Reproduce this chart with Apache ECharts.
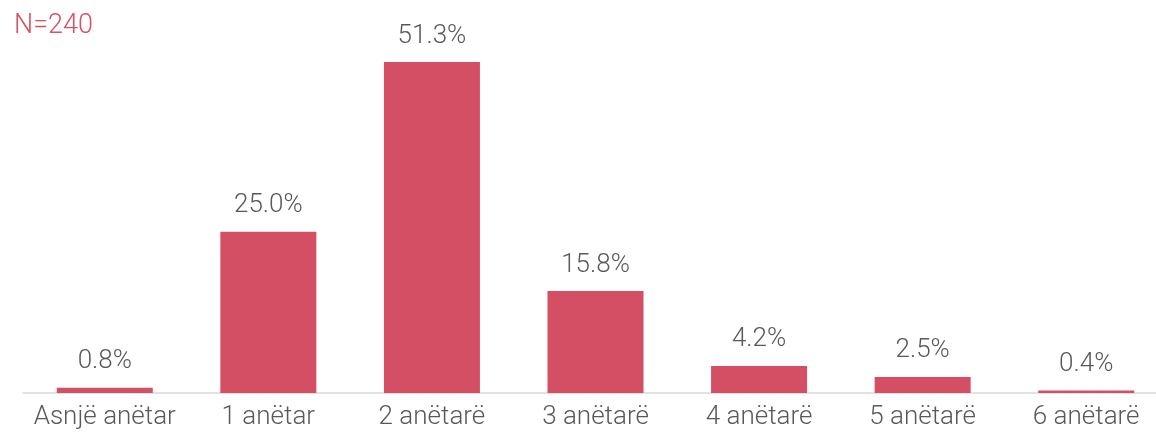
<!DOCTYPE html>
<html>
<head>
<meta charset="utf-8">
<script src="https://cdn.jsdelivr.net/npm/echarts@6/dist/echarts.min.js"></script>
<style>
  html, body { margin: 0; padding: 0; background: #fff; overflow: hidden; }
  #chart { width: 1168px; height: 432px; }
</style>
</head>
<body>
<div id="chart"></div>
<script>
var categories = ['Asnjë anëtar', '1 anëtar', '2 anëtarë', '3 anëtarë', '4 anëtarë', '5 anëtarë', '6 anëtarë'];
var values = [0.8, 25.0, 51.3, 15.8, 4.2, 2.5, 0.4];
var sampleNote = 'N=240';

var myChart = echarts.init(document.getElementById('chart'));

var option = {
  animation: false,
  textStyle: { fontFamily: 'Roboto' },
  title: {
    text: sampleNote,
    left: 9,
    top: 8,
    textStyle: { color: '#d75266', fontSize: 27, fontWeight: 300, fontFamily: 'Roboto' }
  },
  grid: { left: 23, right: 0, top: 6, bottom: 39 },
  xAxis: {
    type: 'category',
    data: categories,
    axisLine: { lineStyle: { color: '#d9d9d9', width: 1.5 } },
    axisTick: { show: false },
    axisLabel: { color: '#595959', fontSize: 26, fontWeight: 300, margin: 11, interval: 0, hideOverlap: false }
  },
  yAxis: {
    type: 'value',
    min: 0,
    max: 60,
    show: false,
    splitLine: { show: false }
  },
  series: [
    {
      type: 'bar',
      data: values,
      barWidth: 96,
      itemStyle: { color: '#d44f63' },
      label: {
        show: true,
        position: 'top',
        distance: 13,
        color: '#595959',
        fontSize: 26,
        fontWeight: 300,
        formatter: function (p) { return p.value.toFixed(1) + '%'; }
      }
    }
  ]
};

option && myChart.setOption(option);
window.onresize = function () { myChart.resize(); };
</script>
</body>
</html>
